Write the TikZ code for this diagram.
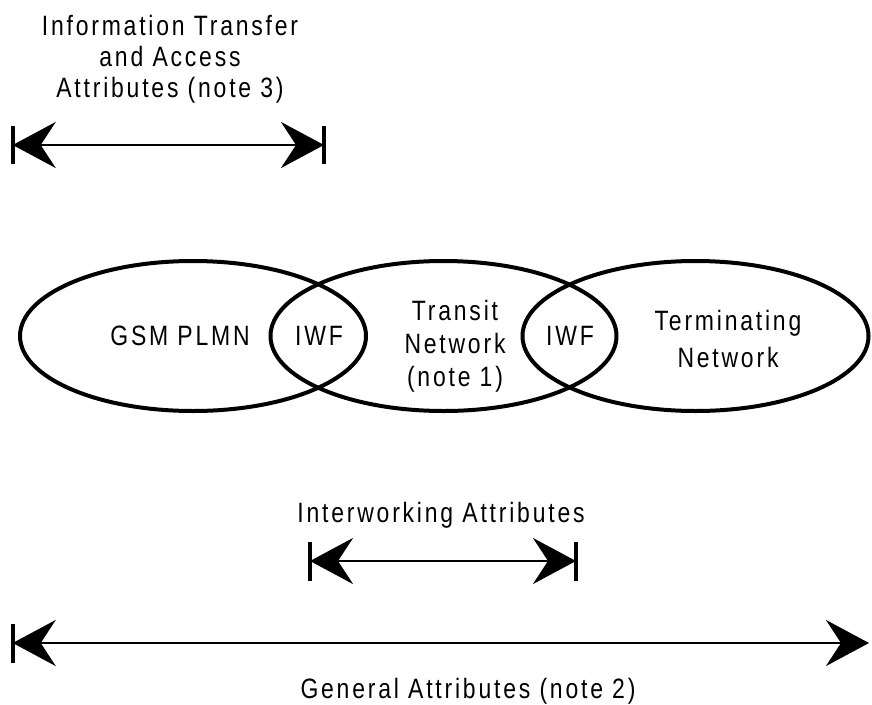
\documentclass[tikz,border=0pt]{standalone}
\usepackage{fontspec}
\setmainfont{Liberation Sans}[FakeStretch=0.82,LetterSpace=10]
\usetikzlibrary{arrows.meta}
\begin{document}
\begin{tikzpicture}[x=1pt,y=-1pt,
  net/.style={draw=black,line width=4pt},
  lbl/.style={font=\fontsize{28}{33}\selectfont,align=center,inner sep=0pt},
  dimarrow/.style={line width=2.5pt,{Stealth[length=43pt,width=46pt,inset=15pt]}-{Stealth[length=43pt,width=46pt,inset=15pt]}},
  lstop/.style={line width=4pt}]
\useasboundingbox (0,0) rectangle (872,704);
% ellipses
\draw[net] (193,336) ellipse [x radius=173pt, y radius=75pt];
\draw[net] (443.5,336) ellipse [x radius=173pt, y radius=75pt];
\draw[net] (695.5,336) ellipse [x radius=173pt, y radius=75pt];
% ellipse texts
\node[lbl] (gsm) at (180,336) {GSM PLMN};
\node[lbl] (iwf1) at (319,336) {IWF};
\node[lbl] (transit) at (455,346) {Transit\\Network\\(note 1)};
\node[lbl] (iwf2) at (570,336) {IWF};
\node[lbl,font=\fontsize{28}{37}\selectfont] (term) at (728,339) {Terminating\\Network};
% top arrow
\node[lbl,font=\fontsize{28}{31}\selectfont] (toptxt) at (170,59) {Information Transfer\\and Access\\Attributes (note 3)};
\coordinate (t1) at (12.7,145);
\coordinate (t2) at (324,145);
\draw[dimarrow] (t1) -- (t2);
\draw[lstop] ([yshift=19pt]t1) -- ([yshift=-19pt]t1);
\draw[lstop] ([yshift=19pt]t2) -- ([yshift=-19pt]t2);
% interworking arrow
\node[lbl] (iwtxt) at (441,515) {Interworking Attributes};
\coordinate (m1) at (310,561);
\coordinate (m2) at (576,561);
\draw[dimarrow] (m1) -- (m2);
\draw[lstop] ([yshift=19.5pt]m1) -- ([yshift=-19.5pt]m1);
\draw[lstop] ([yshift=19.5pt]m2) -- ([yshift=-19.5pt]m2);
% general arrow
\coordinate (g1) at (12.7,643);
\coordinate (g2) at (869,643);
\draw[dimarrow] (g1) -- (g2);
\draw[lstop] ([yshift=19.5pt]g1) -- ([yshift=-19.5pt]g1);
\node[lbl] (gentxt) at (468,691) {General Attributes (note 2)};
\end{tikzpicture}
\end{document}
